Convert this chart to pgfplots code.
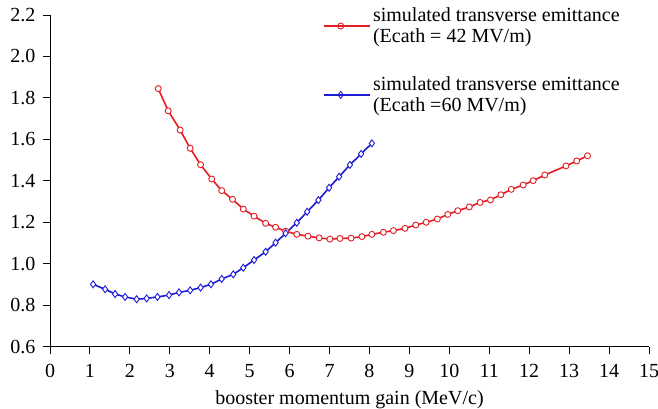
\documentclass[border=0pt]{standalone}
\usepackage{pgfplots}
\pgfplotsset{compat=1.18}
\usepackage{fontspec}
\setmainfont{Liberation Serif}
\definecolor{simred}{RGB}{226,30,36}
\definecolor{simblue}{RGB}{28,28,214}

\begin{document}
\begin{tikzpicture}[font=\fontsize{20}{21.5}\selectfont]
\useasboundingbox (-50pt,-61.3pt) rectangle (608pt,346.7pt);
\begin{axis}[
    at={(0,0)}, anchor=south west,
    scale only axis, width=599pt, height=331.7pt,
    xmin=0, xmax=15, ymin=0.6, ymax=2.2,
    axis lines*=left,
    xtick={0,1,2,3,4,5,6,7,8,9,10,11,12,13,14,15},
    ytick={0.6,0.8,1.0,1.2,1.4,1.6,1.8,2.0,2.2},
    tick align=outside, major tick length=7pt,
    tick style={black, line width=0.9pt},
    axis line style={black, line width=0.9pt},
    /pgf/number format/assume math mode=true,
    yticklabel style={xshift=-4pt, /pgf/number format/.cd, fixed, fixed zerofill, precision=1},
    xticklabel style={yshift=-7pt},
    xlabel={booster momentum gain (MeV/c)},
    xlabel style={yshift=-6.5pt},
    legend cell align=left,
    legend style={at={(0.451,1.035)}, anchor=north west, draw=none, fill=none,
        cells={align=left}, row sep=28pt},
    legend image code/.code={
        \draw[mark repeat=2, mark phase=2, #1, line width=1.8pt]
            plot coordinates {(0pt,0pt) (16.5pt,0pt) (33pt,0pt)};
        \path (0pt,0pt) -- (46pt,0pt);
    },
]

\addplot[color=simred, line width=1.6pt, mark=*, mark size=3pt,
    mark options={fill=white, line width=0.9pt}]
    coordinates {
    (2.71,1.845)(2.96,1.738)(3.26,1.645)(3.51,1.557)(3.77,1.478)(4.05,1.409)
    (4.30,1.353)(4.57,1.311)(4.84,1.264)(5.11,1.230)(5.40,1.195)(5.65,1.176)
    (5.90,1.157)(6.18,1.142)(6.46,1.133)(6.74,1.125)(7.01,1.119)(7.26,1.122)
    (7.54,1.124)(7.81,1.131)(8.06,1.142)(8.35,1.152)(8.60,1.160)(8.89,1.171)
    (9.16,1.187)(9.42,1.200)(9.70,1.216)(9.96,1.238)(10.21,1.256)(10.50,1.274)
    (10.77,1.296)(11.03,1.308)(11.29,1.333)(11.55,1.359)(11.85,1.380)(12.10,1.401)
    (12.39,1.428)(12.92,1.472)(13.19,1.496)(13.46,1.521)
    };
\addlegendentry{simulated transverse emittance\\(Ecath = 42 MV/m)}

\addplot[color=simblue, line width=1.6pt, mark=diamond*, mark size=3.5pt,
    mark options={fill=white, line width=0.9pt}]
    coordinates {
    (1.08,0.901)(1.38,0.877)(1.63,0.854)(1.88,0.840)(2.17,0.829)(2.42,0.833)
    (2.69,0.840)(2.98,0.849)(3.23,0.862)(3.51,0.872)(3.77,0.885)(4.03,0.901)
    (4.30,0.927)(4.59,0.949)(4.84,0.981)(5.11,1.018)(5.40,1.058)(5.65,1.102)
    (5.90,1.147)(6.18,1.198)(6.44,1.251)(6.72,1.307)(6.99,1.367)(7.24,1.420)
    (7.51,1.477)(7.79,1.530)(8.06,1.581)
    };
\addlegendentry{simulated transverse emittance\\(Ecath =60 MV/m)}

\end{axis}
\end{tikzpicture}
\end{document}
